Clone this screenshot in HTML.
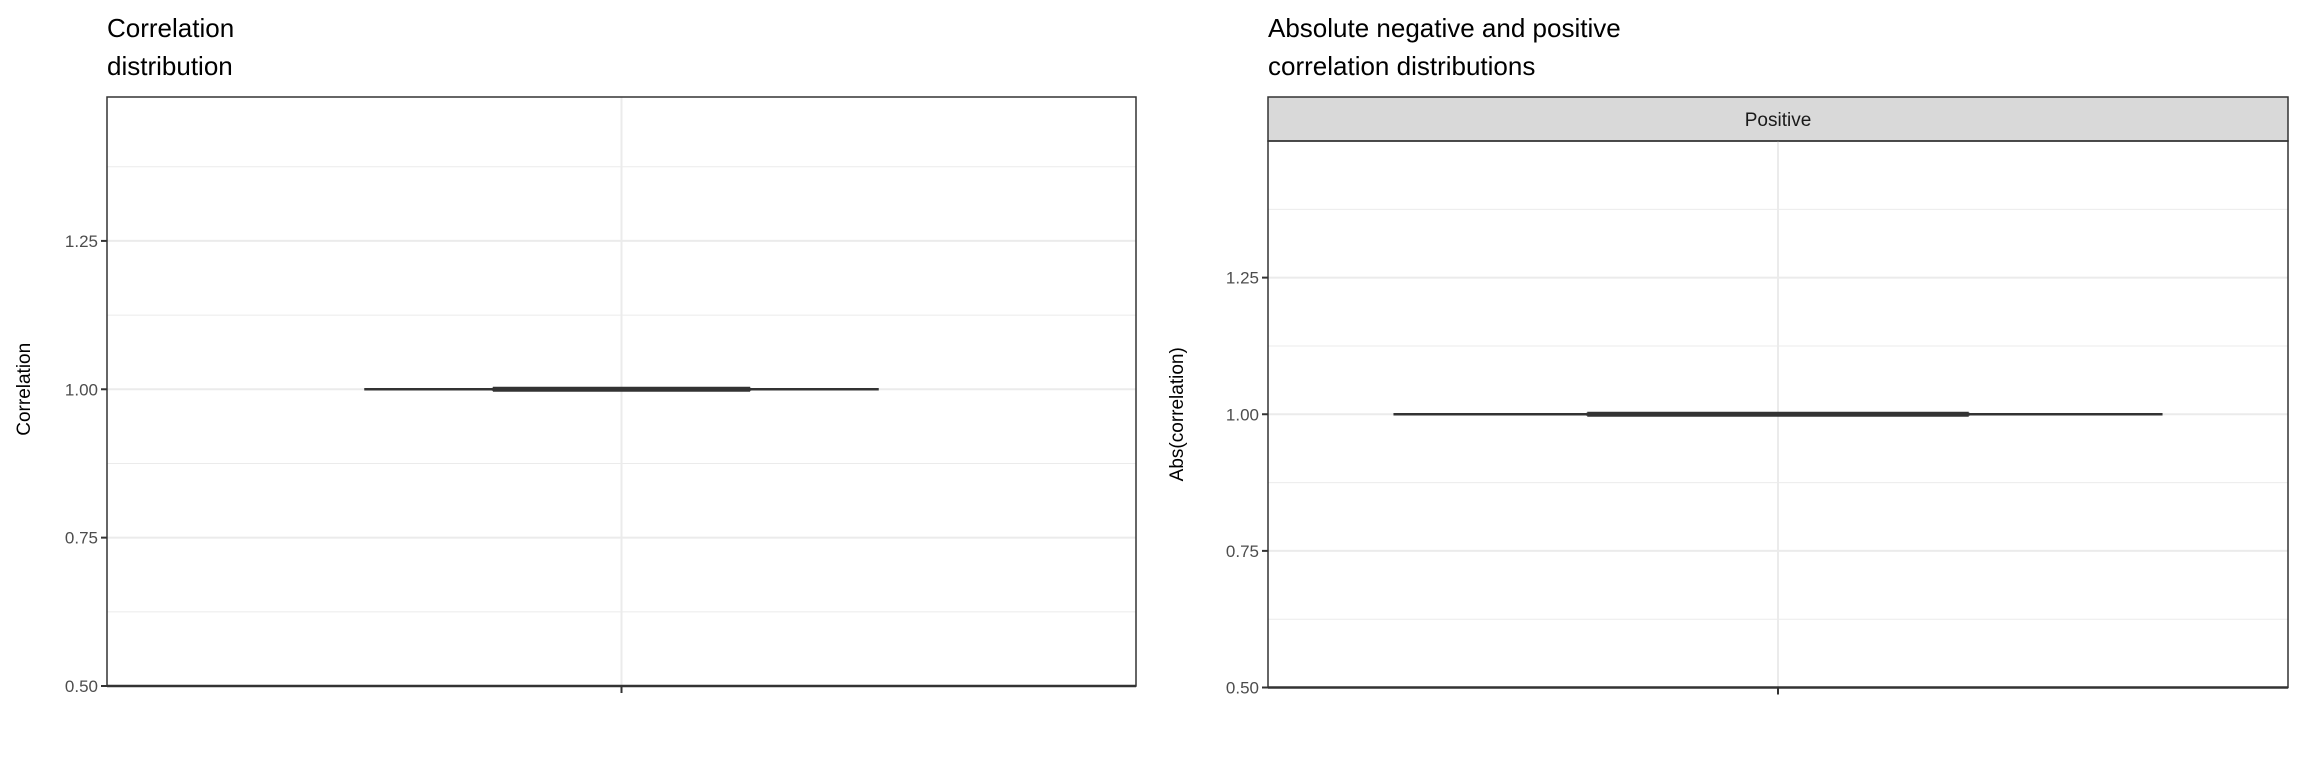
<!DOCTYPE html>
<html><head><meta charset="utf-8"><style>
html,body{margin:0;padding:0;background:#fff;}
svg{display:block;font-family:"Liberation Sans",Arial,sans-serif;}
</style></head><body>
<svg id="chart" width="2304" height="768" viewBox="0 0 2304 768" xmlns="http://www.w3.org/2000/svg"></svg>
<script>
const yTicks = [0.50, 0.75, 1.00, 1.25];
const yTickLabels = ["0.50", "0.75", "1.00", "1.25"];
const yMinor = [0.625, 0.875, 1.125, 1.375];
const panelTitles = [["Correlation", "distribution"], ["Absolute negative and positive", "correlation distributions"]];
const yAxisTitles = ["Correlation", "Abs(correlation)"];
const boxLow = [1.0, 1.0];
const boxQ1 = [1.0, 1.0];
const boxMedian = [1.0, 1.0];
const boxQ3 = [1.0, 1.0];
const boxHigh = [1.0, 1.0];

const NS = "http://www.w3.org/2000/svg";
const svg = document.getElementById("chart");
function mk(tag, attrs, parent) {
  const e = document.createElementNS(NS, tag);
  for (const k in attrs) e.setAttribute(k, attrs[k]);
  (parent || svg).appendChild(e);
  return e;
}
const panels = [
  {x0:107, x1:1136, y0:97, y1:686, strip:null, titleX:107, axisTitleX:30, yMax:1.4925, boxHalf:0.125, whiskHalf:0.25},
  {x0:1268, x1:2288, y0:141, y1:687.5, strip:[97,141,"Positive"], titleX:1268, axisTitleX:1183, yMax:1.5, boxHalf:0.187, whiskHalf:0.377}
];
panels.forEach((p, i) => {
  const g = mk("g", {});
  
  
  const y = v => p.y1 - (v - 0.5) / (p.yMax - 0.5) * (p.y1 - p.y0);
  const cx = (p.x0 + p.x1) / 2;
  const W = p.x1 - p.x0;
  panelTitles[i].forEach((line, k) => {
    const t = mk("text", {x:p.titleX, y:37 + k * 38, "font-size":26, fill:"#000", textLength:0}, g);
    t.removeAttribute("textLength");
    t.textContent = line;
    
    
  });
  if (p.strip) {
    const r = mk("rect", {x:p.x0, y:p.strip[0], width:W, height:p.strip[1] - p.strip[0], fill:"#d9d9d9", stroke:"#333", "stroke-width":1.5}, g);
    
    
    const st = mk("text", {x:cx, y:(p.strip[0] + p.strip[1]) / 2 + 7, "font-size":19, fill:"#1a1a1a", "text-anchor":"middle"}, g);
    st.textContent = p.strip[2];
    
    
  }
  yMinor.forEach(v => {
    const l = mk("line", {x1:p.x0, x2:p.x1, y1:y(v), y2:y(v), stroke:"#ebebeb", "stroke-width":1}, g);
    
    
  });
  yTicks.forEach(v => {
    const l = mk("line", {x1:p.x0, x2:p.x1, y1:y(v), y2:y(v), stroke:"#ebebeb", "stroke-width":2}, g);
    
    
  });
  const vg = mk("line", {x1:cx, x2:cx, y1:p.y0, y2:p.y1, stroke:"#ebebeb", "stroke-width":2}, g);
  
  
  const wl = mk("line", {x1:cx - W * p.whiskHalf, x2:cx + W * p.whiskHalf, y1:y(boxLow[i]), y2:y(boxHigh[i]), stroke:"#333", "stroke-width":2.5}, g);
  
  
  const bh = Math.max(y(boxQ1[i]) - y(boxQ3[i]), 0);
  const bx = mk("rect", {x:cx - W * p.boxHalf, y:y(boxQ3[i]) - 0.5, width:2 * W * p.boxHalf, height:bh + 1, fill:"#fff", stroke:"#333", "stroke-width":2}, g);
  
  
  const md = mk("line", {x1:cx - W * p.boxHalf, x2:cx + W * p.boxHalf, y1:y(boxMedian[i]), y2:y(boxMedian[i]), stroke:"#333", "stroke-width":5}, g);
  
  
  const b = mk("rect", {x:p.x0, y:p.y0, width:W, height:p.y1 - p.y0, fill:"none", stroke:"#333", "stroke-width":1.5}, g);
  
  
  const bb = mk("line", {x1:p.x0, x2:p.x1, y1:p.y1, y2:p.y1, stroke:"#333", "stroke-width":2.5}, g);
  
  
  yTicks.forEach((v, k) => {
    const tk = mk("line", {x1:p.x0 - 6, x2:p.x0, y1:y(v), y2:y(v), stroke:"#333", "stroke-width":2}, g);
    
    
    const tl = mk("text", {x:p.x0 - 9, y:y(v) + 6, "font-size":17, fill:"#4d4d4d", "text-anchor":"end"}, g);
    tl.textContent = yTickLabels[k];
    
    
  });
  const xt = mk("line", {x1:cx, x2:cx, y1:p.y1, y2:p.y1 + 7, stroke:"#333", "stroke-width":2}, g);
  
  
  const cy = y(1.0);
  const at = mk("text", {x:p.axisTitleX, y:cy, "font-size":19, fill:"#000", "text-anchor":"middle", transform:"rotate(-90 " + p.axisTitleX + " " + cy + ")"}, g);
  at.textContent = yAxisTitles[i];
  
  
});
</script>
</body></html>
